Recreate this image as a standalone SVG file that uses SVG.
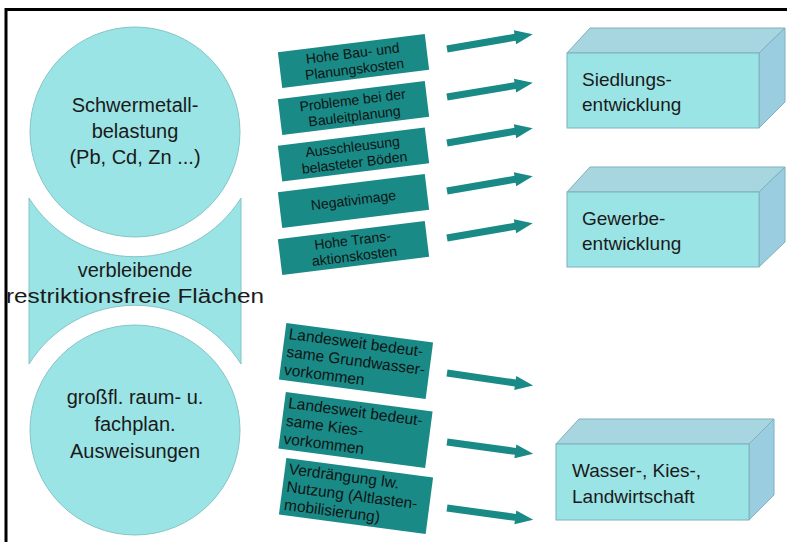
<svg xmlns="http://www.w3.org/2000/svg" width="787" height="542" viewBox="0 0 787 542">
<style>
  .bg { fill: #ffffff; }
  .frame { stroke: #000000; stroke-width: 3; fill: none; }
  .cyan { fill: #9be4e5; stroke: #86c4c6; stroke-width: 1; }
  .ctext { font-family: "Liberation Sans", Arial, sans-serif; font-size: 20px; fill: #1a1a1a; text-anchor: middle; }
  .teal { fill: #1a8a86; }
  .ttext { font-family: "Liberation Sans", Arial, sans-serif; font-size: 14px; fill: #0d1414; text-anchor: middle; }
  .ltext { font-family: "Liberation Sans", Arial, sans-serif; font-size: 15.5px; fill: #0d1414; }
  .front { fill: #9be4e5; stroke: #7fb0bc; stroke-width: 1; }
  .top { fill: #a7d6e0; stroke: #7fb0bc; stroke-width: 1; }
  .side { fill: #9bcde0; stroke: #7fb0bc; stroke-width: 1; }
  .btext { font-family: "Liberation Sans", Arial, sans-serif; font-size: 19px; fill: #1a1a1a; }
  .arrow { fill: #1a8a86; }
</style>
<defs>
  <path id="arr" d="M0,-3.5 L69,-3.5 L69,-7 L87,0 L69,7 L69,3.5 L0,3.5 Z"/>
</defs>
<rect class="bg" x="0" y="0" width="787" height="542"/>
<path class="frame" d="M6,542 L6,9.5 L787,9.5"/>

<g id="circle-schwermetall">
  <circle class="cyan" cx="135" cy="132" r="105"/>
  <text class="ctext" x="135" y="112">Schwermetall-</text>
  <text class="ctext" x="135" y="138">belastung</text>
  <text class="ctext" x="135" y="164">(Pb, Cd, Zn ...)</text>
</g>
<g id="hourglass-flaechen">
  <path class="cyan" d="M29,198 A125,125 0 0 0 241,198 L241,364 A125,125 0 0 0 29,364 Z"/>
  <text class="ctext" x="135" y="277">verbleibende</text>
  <text class="ctext" x="135" y="303" textLength="258" lengthAdjust="spacingAndGlyphs">restriktionsfreie Flächen</text>
</g>
<g id="circle-ausweisungen">
  <circle class="cyan" cx="135" cy="430" r="105"/>
  <text class="ctext" x="135" y="404">großfl. raum- u.</text>
  <text class="ctext" x="135" y="431">fachplan.</text>
  <text class="ctext" x="135" y="458">Ausweisungen</text>
</g>

<g id="label-bau" transform="translate(353.5,61) rotate(-7)">
  <rect class="teal" x="-74" y="-18" width="148" height="36"/>
  <text class="ttext" x="0" y="-3">Hohe Bau- und</text>
  <text class="ttext" x="0" y="13">Planungskosten</text>
</g>
<g id="label-bauleit" transform="translate(353.5,108) rotate(-7)">
  <rect class="teal" x="-74" y="-18" width="148" height="36"/>
  <text class="ttext" x="0" y="-3">Probleme bei der</text>
  <text class="ttext" x="0" y="13">Bauleitplanung</text>
</g>
<g id="label-ausschleusung" transform="translate(353.5,154.5) rotate(-7)">
  <rect class="teal" x="-74" y="-18" width="148" height="36"/>
  <text class="ttext" x="0" y="-3">Ausschleusung</text>
  <text class="ttext" x="0" y="13">belasteter Böden</text>
</g>
<g id="label-negativ" transform="translate(353.5,201) rotate(-7)">
  <rect class="teal" x="-74" y="-18" width="148" height="36"/>
  <text class="ttext" x="0" y="4">Negativimage</text>
</g>
<g id="label-transaktion" transform="translate(353.5,248) rotate(-7)">
  <rect class="teal" x="-74" y="-18" width="148" height="36"/>
  <text class="ttext" x="0" y="-3">Hohe Trans-</text>
  <text class="ttext" x="0" y="13">aktionskosten</text>
</g>

<g id="label-grundwasser" transform="translate(356,361) rotate(7.5)">
  <rect class="teal" x="-74" y="-28.5" width="148" height="57"/>
  <text class="ltext" x="-70" y="-13">Landesweit bedeut-</text>
  <text class="ltext" x="-70" y="5">same Grundwasser-</text>
  <text class="ltext" x="-70" y="23">vorkommen</text>
</g>
<g id="label-kies" transform="translate(355.5,430) rotate(7.5)">
  <rect class="teal" x="-74" y="-28.5" width="148" height="57"/>
  <text class="ltext" x="-70" y="-13">Landesweit bedeut-</text>
  <text class="ltext" x="-70" y="5">same Kies-</text>
  <text class="ltext" x="-70" y="23">vorkommen</text>
</g>
<g id="label-verdraengung" transform="translate(356,496) rotate(7.5)">
  <rect class="teal" x="-74" y="-28.5" width="148" height="57"/>
  <text class="ltext" x="-70" y="-13">Verdrängung lw.</text>
  <text class="ltext" x="-70" y="5">Nutzung (Altlasten-</text>
  <text class="ltext" x="-70" y="23">mobilisierung)</text>
</g>

<g id="connectors">
  <use href="#arr" class="arrow" transform="translate(447,49) rotate(-9.8)"/>
  <use href="#arr" class="arrow" transform="translate(447,97) rotate(-9.5)"/>
  <use href="#arr" class="arrow" transform="translate(447,143) rotate(-9.8)"/>
  <use href="#arr" class="arrow" transform="translate(447,191) rotate(-9.8)"/>
  <use href="#arr" class="arrow" transform="translate(447,238) rotate(-9.8)"/>
  <use href="#arr" class="arrow" transform="translate(447,373) rotate(8.3)"/>
  <use href="#arr" class="arrow" transform="translate(447,442) rotate(7.8)"/>
  <use href="#arr" class="arrow" transform="translate(447,508) rotate(7.8)"/>
</g>

<g id="box-siedlung">
  <polygon class="top" points="567,53 759,53 785,28 590,28"/>
  <polygon class="side" points="759,53 785,28 785,102 759,128"/>
  <rect class="front" x="567" y="53" width="192" height="75"/>
  <text class="btext" x="582" y="86">Siedlungs-</text>
  <text class="btext" x="582" y="111">entwicklung</text>
</g>
<g id="box-gewerbe">
  <polygon class="top" points="567,192 759,192 785,167 590,167"/>
  <polygon class="side" points="759,192 785,167 785,242 759,267"/>
  <rect class="front" x="567" y="192" width="192" height="75"/>
  <text class="btext" x="582" y="225">Gewerbe-</text>
  <text class="btext" x="582" y="250">entwicklung</text>
</g>
<g id="box-wasser">
  <polygon class="top" points="556,444 749,444 774,419 579,419"/>
  <polygon class="side" points="749,444 774,419 774,495 749,520"/>
  <rect class="front" x="556" y="444" width="193" height="76"/>
  <text class="btext" x="572" y="477">Wasser-, Kies-,</text>
  <text class="btext" x="572" y="503">Landwirtschaft</text>
</g>
</svg>
